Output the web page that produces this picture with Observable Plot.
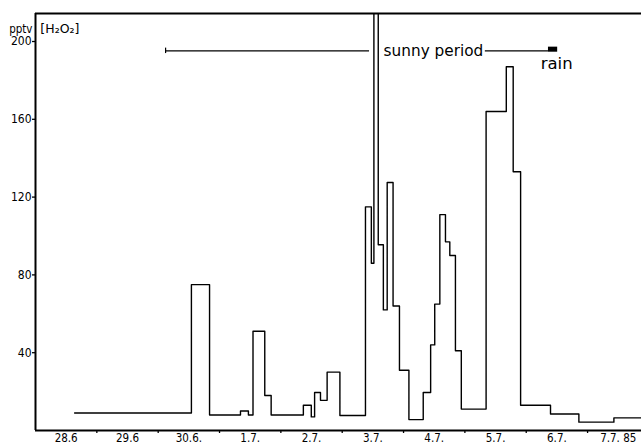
<!DOCTYPE html>
<html>
<head>
<meta charset="utf-8">
<script src="https://cdn.jsdelivr.net/npm/d3@7"></script>
<script src="https://cdn.jsdelivr.net/npm/@observablehq/plot@0.6"></script>
<style>
  html, body { margin: 0; padding: 0; background: #fff; }
  #chart { width: 641px; height: 445px; }
</style>
</head>
<body>
<div id="chart"></div>
<script>
// Hours since 28.6.1985 00:00 at which each step starts (last entry closes the final step)
const hours = [15.3, 61, 68.1, 80.2, 83.3, 85.1, 89.7, 92.2, 104.8, 107.9, 109.2, 111.5, 114.1, 119.1,
  129.1, 131.4, 132.4, 134.1, 136.1, 137.6, 139.9, 142.4, 146.1, 151.7, 154.6, 156.2, 158.2, 160.4,
  162.1, 164.3, 166.6, 176.3, 184.2, 186.9, 189.8, 201.5, 212.6, 226.3, 240];
// H2O2 mixing ratio, pptv
const h2o2 = [9, 75, 8, 10, 8, 51, 18, 8, 13, 7, 19.5, 15.5, 30, 7.7,
  115, 86, 240, 95.5, 62, 127.5, 64, 31, 5.6, 19.5, 44, 65, 111, 97,
  90, 41, 11, 164, 187, 133, 13, 8.5, 4.3, 6.5, 6.5];

const dayLabels = ["28.6", "29.6", "30.6.", "1.7.", "2.7.", "3.7.", "4.7.", "5.7.", "6.7.", "7.7. 85"];
const yTicks = [40, 80, 120, 160, 200];

// annotation periods (hours)
const sunnyStart = [50.9, 176];
const sunnyEnd = [130.7, 200.7];
const rainStart = [200.7];
const rainEnd = [204.3];

const steps = hours.map((h, i) => ({h, v: h2o2[i]}));
const dayBounds = d3.range(1, 10).map(d => d * 24);
const dayCenters = dayLabels.map((_, i) => i * 24 + 12);
const labelMap = new Map(dayCenters.map((c, i) => [c, dayLabels[i]]));
const sunny = sunnyStart.map((s, i) => ({s, e: sunnyEnd[i]}));
const rain = rainStart.map((s, i) => ({s, e: rainEnd[i]}));

const xMax = 237.1, yMax = 214.4;
const font = "'DejaVu Sans Condensed', 'Liberation Sans Narrow', 'DejaVu Sans', sans-serif";
const wide = "'DejaVu Sans', sans-serif";

const chart = Plot.plot({
  width: 641,
  height: 445,
  marginLeft: 35,
  marginRight: 0,
  marginTop: 13,
  marginBottom: 15,
  x: {domain: [0, xMax], axis: null},
  y: {domain: [0, yMax], axis: null},
  style: {fontFamily: font, background: "#fff", color: "#000"},
  marks: [
    Plot.axisX({ticks: dayBounds, tickSize: 3, tickFormat: () => "", strokeWidth: 1.3}),
    Plot.axisX({ticks: dayCenters, tickSize: 0, tickPadding: 3, tickFormat: d => labelMap.get(d), fontSize: 11.5, label: null}),
    Plot.axisY({ticks: yTicks, tickSize: 3, tickPadding: 1, fontSize: 12, label: null, strokeWidth: 1.3}),
    Plot.line(steps, {x: "h", y: "v", curve: "step-after", stroke: "#000", strokeWidth: 1.4, clip: true}),
    Plot.ruleY([0], {stroke: "#000", strokeWidth: 2}),
    Plot.ruleX([0], {stroke: "#000", strokeWidth: 2}),
    Plot.ruleY([yMax], {stroke: "#000", strokeWidth: 2}),
    Plot.ruleY(sunny, {x1: "s", x2: "e", y: 195.2, stroke: "#000", strokeWidth: 1.2}),
    Plot.ruleX(sunny.slice(0, 1), {x: "s", y1: 193.8, y2: 196.6, stroke: "#000", strokeWidth: 1.2}),
    Plot.rect(rain, {x1: "s", x2: "e", y1: 194.5, y2: 197.1, fill: "#000"}),
    Plot.text(["sunny period"], {x: 136.2, y: 195.2, text: d => d, textAnchor: "start", fontSize: 15.3, fontFamily: wide}),
    Plot.text(["rain"], {x: 203.9, y: 188.8, text: d => d, textAnchor: "middle", fontSize: 16.5, fontFamily: wide}),
    Plot.text(["pptv"], {x: 0, y: 206.5, text: d => d, textAnchor: "end", dx: -3, fontSize: 11.5}),
    Plot.text(["[H₂O₂]"], {x: 1.9, y: 206.5, text: d => d, textAnchor: "start", fontSize: 12.5, fontFamily: wide})
  ]
});
document.getElementById("chart").appendChild(chart);
</script>
</body>
</html>
